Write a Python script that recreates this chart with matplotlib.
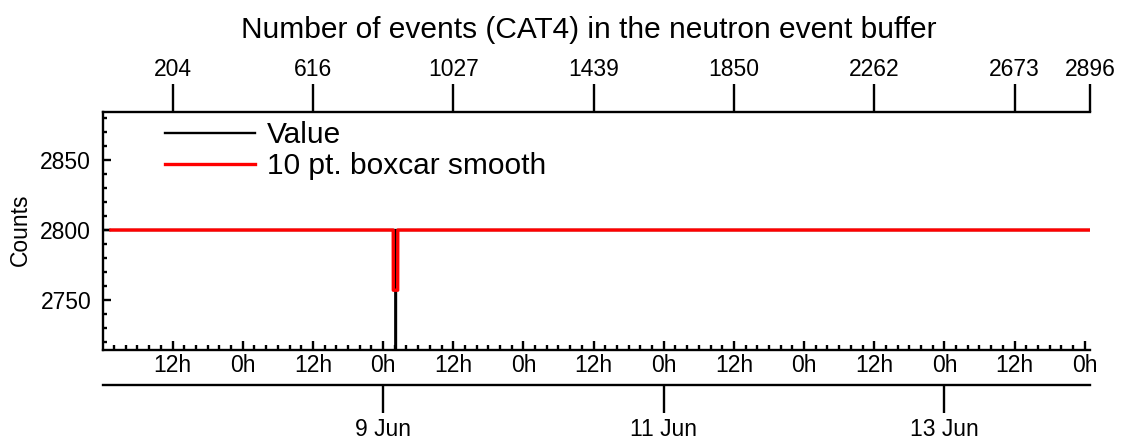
import matplotlib
matplotlib.use('Agg')
import matplotlib.pyplot as plt
import matplotlib.dates as mdates
from matplotlib.ticker import MultipleLocator, FuncFormatter, NullLocator, FixedLocator
from datetime import datetime

plt.rcParams['font.family'] = ['Liberation Sans', 'DejaVu Sans']

title = "Number of events (CAT4) in the neutron event buffer"
ylabel = "Counts"
series_labels = ["Value", "10 pt. boxcar smooth"]

# Value series (black): flat at 2800 with a single drop near 9 Jun ~02:10
value_times = ["2023-06-07 00:06", "2023-06-09 02:07", "2023-06-09 02:10",
               "2023-06-09 02:13", "2023-06-14 00:54"]
value_counts = [2800, 2800, 2370, 2800, 2800]

# 10 pt boxcar smooth (red)
smooth_times = ["2023-06-07 01:27", "2023-06-09 01:44", "2023-06-09 01:45",
                "2023-06-09 02:30", "2023-06-09 02:31", "2023-06-14 00:54"]
smooth_counts = [2800, 2800, 2757, 2757, 2800, 2800]

# top axis: sample index
top_tick_times = ["2023-06-07 12:00", "2023-06-08 12:00", "2023-06-09 12:00",
                  "2023-06-10 12:00", "2023-06-11 12:00", "2023-06-12 12:00",
                  "2023-06-13 12:00", "2023-06-14 00:54"]
top_tick_labels = ["204", "616", "1027", "1439", "1850", "2262", "2673", "2896"]

# date axis
date_tick_times = ["2023-06-09 00:00", "2023-06-11 00:00", "2023-06-13 00:00"]
date_tick_labels = ["9 Jun", "11 Jun", "13 Jun"]

y_major_ticks = [2750, 2800, 2850]
y_limits = [2714.3, 2884.3]


def to_num(lst):
    return [mdates.date2num(datetime.strptime(s, "%Y-%m-%d %H:%M")) for s in lst]


vt = to_num(value_times)
st = to_num(smooth_times)

W, H = 1124, 441
fig = plt.figure(figsize=(W / 100, H / 100), dpi=100)
L, R, B, T = 103, 1090, 350, 112
ax = fig.add_axes([L / W, 1 - B / H, (R - L) / W, (B - T) / H])

LW = 1.7
ax.plot(vt, value_counts, color='black', lw=1.7, label=series_labels[0])
ax.plot(st, smooth_counts, color='red', lw=2.4, label=series_labels[1])

ax.set_xlim(vt[0], vt[-1])
ax.set_ylim(*y_limits)

for s in ['top', 'right']:
    ax.spines[s].set_visible(False)
for s in ['left', 'bottom']:
    ax.spines[s].set_linewidth(LW)

TS = 16.5
# y axis
ax.yaxis.set_major_locator(FixedLocator(y_major_ticks))
ax.yaxis.set_minor_locator(MultipleLocator(10))
ax.tick_params(axis='y', which='major', direction='in', length=6, width=LW,
               labelsize=TS, pad=8.5)
ax.tick_params(axis='y', which='minor', direction='in', length=3, width=LW)

# bottom hour axis
ax.xaxis.set_major_locator(mdates.HourLocator(byhour=[0, 12]))
ax.xaxis.set_minor_locator(mdates.HourLocator(byhour=range(0, 24, 2)))
ax.xaxis.set_major_formatter(FuncFormatter(lambda x, p: f"{mdates.num2date(x).hour}h"))
ax.tick_params(axis='x', which='major', direction='in', length=6.5, width=LW,
               labelsize=TS, pad=3)
ax.tick_params(axis='x', which='minor', direction='in', length=3.5, width=LW)

# top index axis
sec_top = ax.secondary_xaxis('top')
sec_top.set_xticks(to_num(top_tick_times), top_tick_labels)
sec_top.xaxis.set_minor_locator(NullLocator())
sec_top.tick_params(axis='x', direction='out', length=20, width=LW, labelsize=TS, pad=2.5)
sec_top.spines['top'].set_linewidth(LW)

# date axis
sec_date = ax.secondary_xaxis(-0.147)
sec_date.set_xticks(to_num(date_tick_times), date_tick_labels)
sec_date.xaxis.set_minor_locator(NullLocator())
sec_date.tick_params(axis='x', direction='out', length=20, width=LW, labelsize=TS, pad=3.6)
sec_date.spines['bottom'].set_linewidth(LW)

fig.text(589 / W, 1 - 30 / H, title, ha='center', va='center', fontsize=21.5)
fig.text(20 / W, 1 - 230 / H, ylabel, ha='center', va='center', rotation=90, fontsize=TS)

ax.legend(loc='upper left', bbox_to_anchor=((165 - L) / (R - L), (B - 121) / (B - T)),
          frameon=False, fontsize=21.5, handlelength=3.0, handletextpad=0.4,
          labelspacing=0.1, borderpad=0, borderaxespad=0)

fig.savefig('out.png', dpi=100)
